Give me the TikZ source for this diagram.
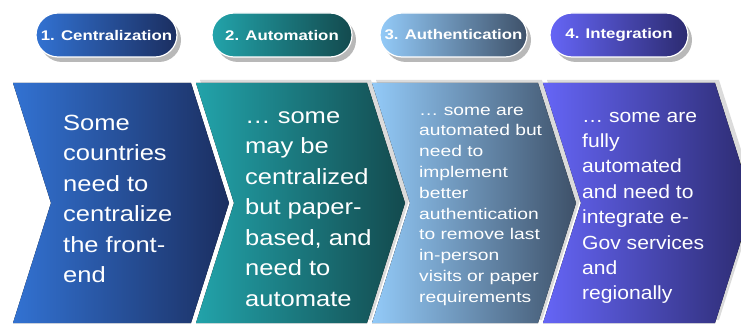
\documentclass[tikz,border=0pt]{standalone}
\usepackage{fontspec}
\setmainfont{Liberation Sans}
\usetikzlibrary{shadows}

\definecolor{cenL}{HTML}{3272D2}
\definecolor{cenR}{HTML}{1B2E60}
\definecolor{autL}{HTML}{22A3AA}
\definecolor{autR}{HTML}{134A4E}
\definecolor{authL}{HTML}{93CAF8}
\definecolor{authR}{HTML}{3E5169}
\definecolor{intL}{HTML}{6565F6}
\definecolor{intR}{HTML}{2C2B70}

\tikzset{
	phase/.style={rounded corners=22pt, minimum height=44pt, inner sep=0pt, draw=white, line width=1.2pt,
		text=white, font=\bfseries\fontsize{14}{16}\selectfont\addfontfeatures{FakeStretch=1.2},
		drop shadow={shadow xshift=4pt, shadow yshift=-5pt, fill=black!28, opacity=1}},
	bigtxt/.style={anchor=north west, align=left, text=white, inner sep=0pt,
		font=\fontsize{22}{30.5}\selectfont\addfontfeatures{FakeStretch=1.16}},
}

\begin{document}
\begin{tikzpicture}[x=1pt,y=-1pt]
			\useasboundingbox (0,0) rectangle (741,326);
			
			% chevrons
			\foreach \xl/\xr/\ca/\cb in {13/191/cenL/cenR,196/367/autL/autR,372/538/authL/authR,543/715/intL/intR}{
				\ifnum\xl>20
					\fill[black!14] (\xl+4,80) -- (\xr+4,80) -- (\xr+42,200) -- (\xr+4,320) -- (\xl+4,320) -- (\xl+42,200) -- cycle;
				\fi
				\fill[left color=\ca, right color=\cb] (\xl,83) -- (\xr,83) -- (\xr+38,203) -- (\xr,323) -- (\xl,323) -- (\xl+38,203) -- cycle;
			}
			
			% phase labels
			\node[phase, left color=cenL, right color=cenR, minimum width=141pt] (cen) at (106.5,35) {1. Centralization};
			\node[phase, left color=autL, right color=autR, minimum width=140pt] (aut) at (282,35) {2. Automation};
			\node[phase, left color=authL, right color=authR, minimum width=147pt] (auth) at (453.5,35) {3. Authentication};
			\node[phase, left color=intL, right color=intR, minimum width=138pt] (int) at (619,35) {4. Integration};
			
			% texts
			\node[bigtxt] (cen-txt) at (63,108.6) {\strut Some\\countries\\need to\\centralize\\the front-\\end};
			\node[bigtxt] (aut-txt) at (245,101.6) {\strut … some\\may be\\centralized\\but paper-\\based, and\\need to\\automate};
			\node[bigtxt, font=\fontsize{15.5}{20.8}\selectfont\addfontfeatures{FakeStretch=1.24}] (auth-txt) at (419,100.4) {\strut … some are\\automated but\\need to\\implement\\better\\authentication\\to remove last\\in-person\\visits or paper\\requirements};
			\node[bigtxt, font=\fontsize{19}{25.4}\selectfont\addfontfeatures{FakeStretch=1.11}] (int-txt) at (582,104.2) {\strut … some are\\fully\\automated\\and need to\\integrate e-\\Gov services\\and\\regionally};
		\end{tikzpicture}
\end{document}
